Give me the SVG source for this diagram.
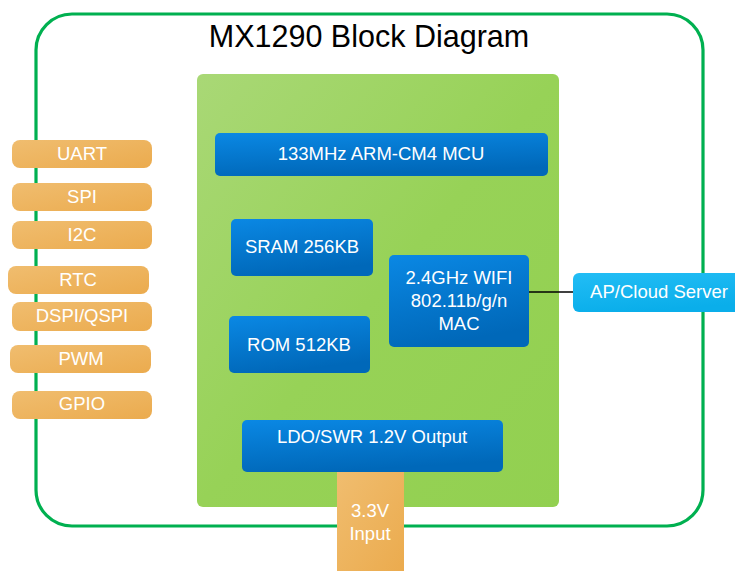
<svg xmlns="http://www.w3.org/2000/svg" width="735" height="571" viewBox="0 0 735 571">
<defs>
<linearGradient id="gGreen" x1="0" y1="0" x2="1" y2="1"><stop offset="0" stop-color="#a9d876"/><stop offset="0.5" stop-color="#97d257"/><stop offset="1" stop-color="#92d050"/></linearGradient>
<linearGradient id="gBlue" x1="0" y1="0" x2="0.3" y2="1"><stop offset="0" stop-color="#0a88e4"/><stop offset="1" stop-color="#0068b9"/></linearGradient>
<linearGradient id="gOrange" x1="0" y1="0" x2="1" y2="1"><stop offset="0" stop-color="#f0bd6f"/><stop offset="1" stop-color="#ebab4e"/></linearGradient>
<linearGradient id="gSky" x1="0" y1="0" x2="0.3" y2="1"><stop offset="0" stop-color="#22bdf5"/><stop offset="1" stop-color="#0aaeea"/></linearGradient>
</defs>
<style>
text{font-family:"Liberation Sans",Arial,sans-serif;text-anchor:middle;fill:#fff;font-size:18.5px}
.title{fill:#000;font-size:30.5px}
.blue{fill:url(#gBlue)}
.org{fill:url(#gOrange)}
.conn{stroke:#000;stroke-width:1.3;fill:none}
</style>
<rect x="0" y="0" width="735" height="571" fill="#fff"/>
<g id="frame">
<rect x="36" y="14" width="667" height="512" rx="36" fill="none" stroke="#00b050" stroke-width="3.2"/>
<text class="title" x="369" y="47">MX1290 Block Diagram</text>
</g>
<g id="chip"><rect x="197" y="74" width="362" height="433" rx="6" fill="url(#gGreen)"/></g>
<g id="connectors"><line class="conn" x1="529" y1="292" x2="574" y2="292"/></g>
<g id="mcu"><rect class="blue" x="215" y="133" width="333" height="43" rx="5"/><text x="381" y="160">133MHz ARM-CM4 MCU</text></g>
<g id="sram"><rect class="blue" x="231" y="219" width="142" height="57" rx="5"/><text x="302" y="253">SRAM 256KB</text></g>
<g id="rom"><rect class="blue" x="229" y="316" width="141" height="57" rx="5"/><text x="299" y="351">ROM 512KB</text></g>
<g id="wifi"><rect class="blue" x="389" y="255" width="140" height="92" rx="5"/><text x="459" y="284">2.4GHz WIFI</text><text x="459" y="307">802.11b/g/n</text><text x="459" y="330">MAC</text></g>
<g id="ldo"><rect class="blue" x="242" y="420" width="261" height="52" rx="5"/><text x="372" y="443">LDO/SWR 1.2V Output</text></g>
<g id="input"><rect x="337" y="472" width="67" height="99" fill="url(#gOrange)"/><text x="370" y="517">3.3V</text><text x="370" y="540">Input</text></g>
<g id="ap"><rect x="573" y="273" width="170" height="39" rx="6" fill="url(#gSky)"/><text x="659" y="298">AP/Cloud Server</text></g>
<g id="uart"><rect class="org" x="12" y="140" width="140" height="28" rx="8"/><text x="82" y="160">UART</text></g>
<g id="spi"><rect class="org" x="12" y="183" width="140" height="28" rx="8"/><text x="82" y="203">SPI</text></g>
<g id="i2c"><rect class="org" x="12" y="221" width="140" height="28" rx="8"/><text x="82" y="241">I2C</text></g>
<g id="rtc"><rect class="org" x="8" y="266" width="141" height="28" rx="8"/><text x="78" y="286">RTC</text></g>
<g id="dspi"><rect class="org" x="12" y="302" width="140" height="29" rx="8"/><text x="82" y="322">DSPI/QSPI</text></g>
<g id="pwm"><rect class="org" x="10" y="345" width="141" height="28" rx="8"/><text x="81" y="365">PWM</text></g>
<g id="gpio"><rect class="org" x="12" y="391" width="140" height="28" rx="8"/><text x="82" y="410">GPIO</text></g>
</svg>
